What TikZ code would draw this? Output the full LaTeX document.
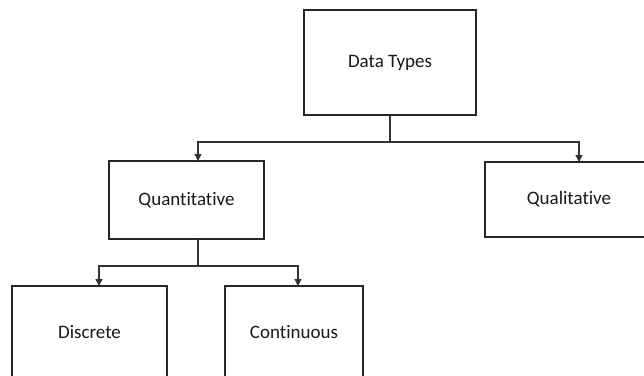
\documentclass[tikz,border=0pt]{standalone}
\usepackage{fontspec}
\setmainfont{Carlito}[Ligatures={NoCommon}]
\usetikzlibrary{arrows.meta}
\begin{document}
\begin{tikzpicture}[x=1pt,y=-1pt,
  box/.style={draw=black!85,line width=2.3pt,fill=white,font=\fontsize{19}{22}\selectfont,text=black!90},
  conn/.style={draw=black!80,line width=1.4pt,-{Triangle[length=7pt,width=7pt]}},
  stem/.style={draw=black!80,line width=1.4pt}]
\useasboundingbox (0,0) rectangle (644,375);
\clip (0,0) rectangle (644,375);
\node[box,minimum width=172pt,minimum height=105pt] (dt) at (390,62.5) {Data Types};
\node[box,minimum width=155pt,minimum height=78pt] (qn) at (186.5,200) {Quantitative};
\node[box,minimum width=168pt,minimum height=75pt] (ql) at (569,199.5) {Qualitative};
\node[box,minimum width=155pt,minimum height=92pt] (di) at (89.5,332) {Discrete};
\node[box,minimum width=138pt,minimum height=92pt] (co) at (294,332) {Continuous};
\coordinate (j1) at (390,142);
\coordinate (j2) at (198,266);
\draw[stem] (dt.south) -- (j1);
\draw[conn] (j1) -| (198,161);
\draw[conn] (j1) -| (579,162);
\draw[stem] (198,239) -- (j2);
\draw[conn] (j2) -| (99,286);
\draw[conn] (j2) -| (298,286);
\end{tikzpicture}
\end{document}
